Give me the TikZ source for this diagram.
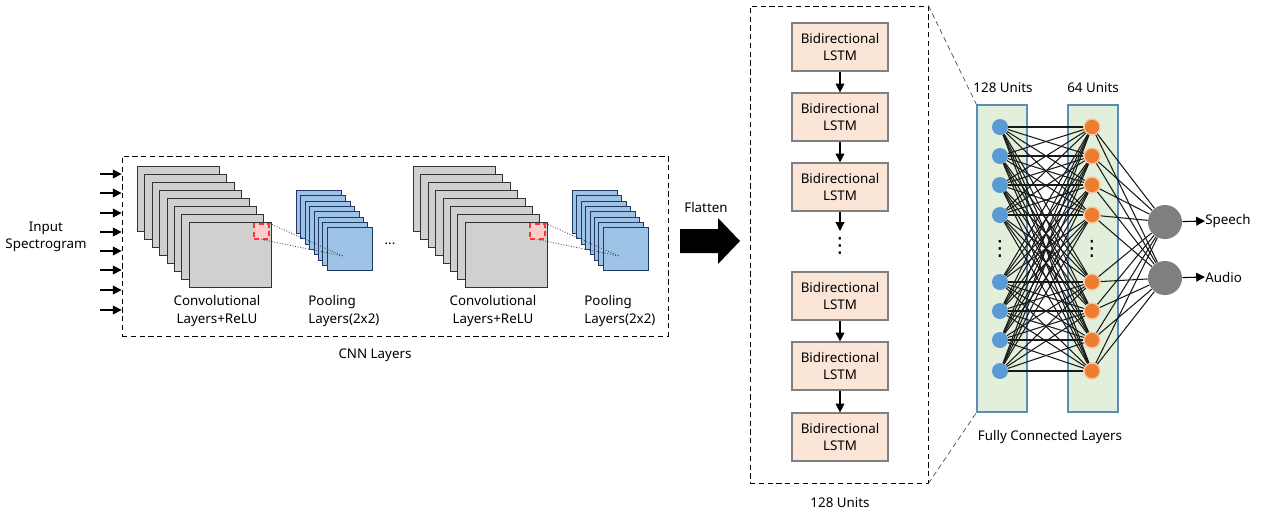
\documentclass[tikz,border=0pt]{standalone}
\usepackage{fontspec}
\setmainfont{Noto Sans}
\newfontfamily\symfont{DejaVu Sans}
\usepackage{tikz}
\usetikzlibrary{arrows.meta}
\definecolor{sheetgray}{HTML}{D0D0D0}
\definecolor{poolblue}{HTML}{9DC3E6}
\definecolor{poolline}{HTML}{203864}
\definecolor{lstmfill}{HTML}{FBE5D6}
\definecolor{fcfill}{HTML}{E2EFDA}
\definecolor{fcline}{HTML}{5B8DB8}
\definecolor{unit0}{HTML}{5B9BD5}
\definecolor{unit1}{HTML}{ED7D31}
\definecolor{outgray}{HTML}{7F7F7F}

\begin{document}
\begin{tikzpicture}[x=0.02cm, y=-0.02cm,
  lbl/.style={font=\fontsize{7.6}{10}\selectfont, align=center, inner sep=0pt},
  vdot/.style={font=\symfont\fontsize{12}{12}\selectfont, inner sep=0pt},
  dashbox/.style={draw, densely dashed, line width=0.5pt, inner sep=0pt},
  convsheet/.style={draw=black!80, fill=sheetgray, line width=0.6pt, anchor=north west,
                    minimum width=1.64cm, minimum height=1.3cm, inner sep=0pt},
  poolsheet/.style={draw=poolline, fill=poolblue, line width=0.6pt, anchor=north west,
                    minimum width=0.9cm, minimum height=0.86cm, inner sep=0pt},
  redwin/.style={draw=red!80, densely dashed, fill=red!20, line width=0.6pt,
                 minimum size=0.3cm, inner sep=0pt},
  proj/.style={densely dotted, black!70, line width=0.5pt},
  lstm/.style={draw=black!50, fill=lstmfill, line width=0.7pt, minimum width=1.92cm,
               minimum height=0.96cm, align=center, inner sep=0pt,
               font=\fontsize{7.6}{10}\selectfont},
  flow/.style={-{Triangle[length=5pt, width=5pt]}, line width=0.6pt},
  fcpanel/.style={draw=fcline, fill=fcfill, line width=0.7pt, minimum width=1cm,
                  minimum height=6.14cm, inner sep=0pt},
  unit/.style={circle, minimum size=0.32cm, inner sep=0pt},
  outunit/.style={circle, fill=outgray, minimum size=0.68cm, inner sep=0pt},
  edge/.style={line width=0.6pt, black!90},
]
\useasboundingbox (0,0) rectangle (1262,512);

% CNN part
\node[dashbox, minimum width=10.92cm, minimum height=3.6cm] (cnn) at (395,246) {};
\node[lbl] (inp) at (46,237) {Input\\Spectrogram};
\foreach \y in {174,193,213,232,251,270,290,310} {
  \coordinate (in\y) at (100,\y);
  \draw[flow] (in\y) -- (in\y -| cnn.west);
}

\foreach \s/\dx in {1/0, 2/276} {
  \foreach \k in {0,...,7}
    \node[convsheet] (c\s s\k) at ({137+\dx+7.4*\k},{166+8*\k}) {};
  \foreach \k in {0,...,7}
    \node[poolsheet] (p\s s\k) at ({296+\dx+4.4*\k},{190+5.3*\k}) {};
  \node[redwin] (rw\s) at (261.5+\dx,231.5) {};
  \coordinate (pt\s) at (343+\dx,256);
  \draw[proj] (rw\s.north east) -- (pt\s);
  \draw[proj] (rw\s.south) -- (pt\s);
  \node[lbl] (cl\s) at (217+\dx,311) {Convolutional\\Layers+ReLU};
  \node[lbl, align=left, anchor=west] (pl\s) at (308+\dx,311) {Pooling\\Layers(2x2)};
}
\node[lbl] (gap) at (390,244) {...};
\node[lbl] (cnnlbl) at (375,355) {CNN Layers};

% flatten
\fill (680,229) -- (718,229) -- (718,218) -- (740,241) -- (718,264) -- (718,253)
  -- (680,253) -- cycle;
\node[lbl] (flat) at (706,207) {Flatten};

% LSTM stack
\node[dashbox, minimum width=3.56cm, minimum height=9.54cm] (lstmbox) at (839,244.5) {};
\node[lstm] (l1) at (840,47) {Bidirectional\\LSTM};
\node[lstm] (l2) at (840,117) {Bidirectional\\LSTM};
\node[lstm] (l3) at (840,187) {Bidirectional\\LSTM};
\coordinate (lgap) at (840,231);
\node[vdot] (ldots) at (840,246) {⋮};
\node[lstm] (l4) at (840,296) {Bidirectional\\LSTM};
\node[lstm] (l5) at (840,366) {Bidirectional\\LSTM};
\node[lstm] (l6) at (840,437) {Bidirectional\\LSTM};
\draw[flow] (l1) -- (l2);
\draw[flow] (l2) -- (l3);
\draw[flow] (l3) -- (lgap);
\draw[flow] (l4) -- (l5);
\draw[flow] (l5) -- (l6);
\node[lbl] (lstmlbl) at (840,503) {128 Units};

% fully connected layers
\node[fcpanel] (fc1) at (1002,258.5) {};
\node[fcpanel] (fc2) at (1093,258.5) {};
\draw[proj, densely dashed, line width=0.4pt] (lstmbox.north east) -- (fc1.north west);
\draw[proj, densely dashed, line width=0.4pt] (lstmbox.south east) -- (fc1.south west);
\node[lbl] (fc1lbl) at (1003,88) {128 Units};
\node[lbl] (fc2lbl) at (1093,88) {64 Units};
\node[lbl] (fclbl) at (1050,437) {Fully Connected Layers};

\foreach \i/\y in {1/127,2/156,3/185,4/215,5/282,6/311,7/340,8/371} {
  \node[unit, fill=unit0] (h\i) at (1000,\y) {};
  \node[unit, fill=unit1, draw=unit1!45, line width=0.8pt] (g\i) at (1092,\y) {};
}
\node[vdot] (hdots) at (1000,249) {⋮};
\node[vdot] (gdots) at (1092,249) {⋮};

\node[outunit] (o1) at (1165,222) {};
\node[outunit] (o2) at (1165,278) {};

\foreach \i in {1,...,8} {
  \foreach \j in {1,...,8}
    \draw[edge] (h\i) -- (g\j);
  \draw[edge] (g\i) -- (o1);
  \draw[edge] (g\i) -- (o2);
}

\node[lbl, anchor=west] (speech) at (1205,221) {Speech};
\node[lbl, anchor=west] (audio) at (1205,277) {Audio};
\draw[flow] (o1) -- (speech.west);
\draw[flow] (o2) -- (audio.west);
\end{tikzpicture}
\end{document}
